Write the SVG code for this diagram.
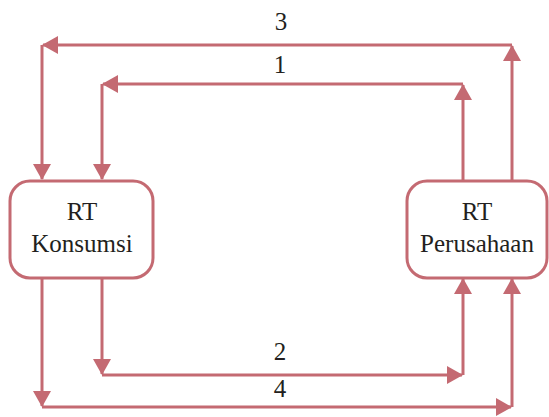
<svg xmlns="http://www.w3.org/2000/svg" width="549" height="417" viewBox="0 0 549 417">
<style>
.ln{stroke:#c46a72;stroke-width:3;fill:none;marker-end:url(#ah)}
.box{fill:#fff;stroke:#c46a72;stroke-width:3}
.t{font-size:25px;fill:#231f20;text-anchor:middle}
</style>
<defs>
<marker id="ah" viewBox="0 0 16 18" refX="15" refY="9" markerWidth="16" markerHeight="18" markerUnits="userSpaceOnUse" orient="auto">
<path d="M0,0 L16,9 L0,18 Z" fill="#c46a72"/>
</marker>
</defs>
<rect width="549" height="417" fill="#fff"/>
<g id="connectors" font-family="'Liberation Serif', 'DejaVu Serif', serif">
<path class="ln" d="M463,180 V85"/>
<path class="ln" d="M463,84 H103"/>
<path class="ln" d="M102,84 V179"/>
<path class="ln" d="M512,180 V46"/>
<path class="ln" d="M512,45 H43"/>
<path class="ln" d="M42,45 V179"/>
<path class="ln" d="M102,278 V374"/>
<path class="ln" d="M102,375 H462"/>
<path class="ln" d="M463,375 V279"/>
<path class="ln" d="M42,278 V406"/>
<path class="ln" d="M42,407 H511"/>
<path class="ln" d="M512,407 V279"/>
<text class="t" x="281" y="30">3</text>
<text class="t" x="280" y="73">1</text>
<text class="t" x="280" y="360">2</text>
<text class="t" x="280" y="397">4</text>
</g>
<g id="konsumsi" font-family="'Liberation Serif', 'DejaVu Serif', serif">
<rect class="box" x="10" y="181" width="143" height="97" rx="20"/>
<text class="t" x="82" y="220">RT</text>
<text class="t" x="82" y="252">Konsumsi</text>
</g>
<g id="perusahaan" font-family="'Liberation Serif', 'DejaVu Serif', serif">
<rect class="box" x="407" y="181" width="140" height="97" rx="20"/>
<text class="t" x="477" y="220">RT</text>
<text class="t" x="477" y="252">Perusahaan</text>
</g>
</svg>
